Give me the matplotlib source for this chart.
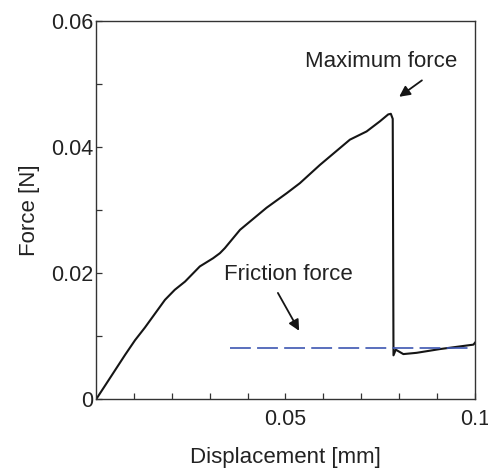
import matplotlib
matplotlib.use('Agg')
import matplotlib.pyplot as plt

plt.rcParams['font.family'] = ['Liberation Sans', 'DejaVu Sans']
plt.rcParams['lines.scale_dashes'] = False

# force-displacement trace (mm, N)
disp = [0.0, 0.0025, 0.0077, 0.0103, 0.0129, 0.0182, 0.0208, 0.0235, 0.0274,
        0.0309, 0.0327, 0.0340, 0.0380, 0.0450, 0.0503, 0.0538, 0.0591, 0.0670,
        0.0714, 0.0749, 0.0771, 0.0778, 0.0783, 0.0785, 0.0791, 0.0811, 0.0846,
        0.0908, 0.0996, 0.1000]
force = [0.0, 0.0023, 0.0071, 0.0094, 0.0114, 0.0158, 0.0174, 0.0187, 0.0211,
         0.0224, 0.0232, 0.0240, 0.0269, 0.0304, 0.0327, 0.0343, 0.0372, 0.0412,
         0.0425, 0.0441, 0.0452, 0.0453, 0.0445, 0.0070, 0.0079, 0.0072, 0.0074,
         0.0080, 0.0087, 0.0090]

friction_level = 0.0081
friction_x = [0.0354, 0.0995]

xtick_vals = [0.01, 0.02, 0.03, 0.04, 0.05, 0.06, 0.07, 0.08, 0.09, 0.1]
xtick_labels = ['', '', '', '', '0.05', '', '', '', '', '0.1']
ytick_vals = [0.0, 0.01, 0.02, 0.03, 0.04, 0.05, 0.06]
ytick_labels = ['0', '', '0.02', '', '0.04', '', '0.06']

fig = plt.figure(figsize=(4.89, 4.73), dpi=100)
ax = fig.add_axes([0.1963, 0.1554, 0.775, 0.8])

ax.plot(disp, force, color='#151515', linewidth=1.5, solid_joinstyle='round')
ax.plot(friction_x, [friction_level, friction_level], color='#3d56b2',
        linewidth=1.2, dashes=(15, 4.5))

ax.set_xlim(0, 0.1)
ax.set_ylim(0, 0.06)
ax.set_xticks(xtick_vals)
ax.set_xticklabels(xtick_labels)
ax.set_yticks(ytick_vals)
ax.set_yticklabels(ytick_labels)
ax.tick_params(direction='in', length=4.5, width=0.9, color='#333333',
               labelsize=15.5, labelcolor='#222222')
ax.tick_params(axis='x', pad=7)
ax.tick_params(axis='y', pad=2)
for s in ax.spines.values():
    s.set_linewidth(1.0)
    s.set_color('#333333')

ax.set_xlabel('Displacement [mm]', fontsize=16, color='#222222', labelpad=12)
ax.set_ylabel('Force [N]', fontsize=16, color='#222222', labelpad=8)

arrow = dict(arrowstyle='-|>', color='#151515', lw=1.3, mutation_scale=16,
             shrinkA=0, shrinkB=0)
ax.annotate('', xy=(0.0800, 0.0480), xytext=(0.0860, 0.0506), arrowprops=arrow)
ax.annotate('', xy=(0.0536, 0.0109), xytext=(0.0480, 0.0169), arrowprops=arrow)
ax.text(0.0752, 0.0536, 'Maximum force', fontsize=16, color='#222222',
        ha='center', va='center')
ax.text(0.0507, 0.0198, 'Friction force', fontsize=16, color='#222222',
        ha='center', va='center')

fig.savefig('out.png', dpi=100)
